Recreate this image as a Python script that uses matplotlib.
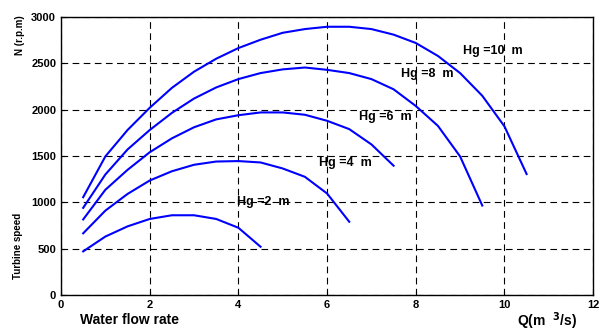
import matplotlib
matplotlib.use("Agg")
import matplotlib.pyplot as plt

plt.rcParams['font.family'] = ['Liberation Sans', 'DejaVu Sans']
plt.rcParams['font.weight'] = 'bold'

# flow rate (m3/s) and turbine speed (rpm) for each head
q2 = [0.5, 1, 1.5, 2, 2.5, 3, 3.5, 4, 4.5]
n2 = [470, 630, 740, 820, 860, 860, 820, 725, 520]

q4 = [0.5, 1, 1.5, 2, 2.5, 3, 3.5, 4, 4.5, 5, 5.5, 6, 6.5]
n4 = [665, 910, 1090, 1235, 1335, 1405, 1440, 1445, 1430, 1365, 1275, 1095, 790]

q6 = [0.5, 1, 1.5, 2, 2.5, 3, 3.5, 4, 4.5, 5, 5.5, 6, 6.5, 7, 7.5]
n6 = [815, 1135, 1350, 1540, 1690, 1810, 1895, 1940, 1970, 1970, 1945, 1880, 1790, 1625, 1395]

q8 = [0.5, 1, 1.5, 2, 2.5, 3, 3.5, 4, 4.5, 5, 5.5, 6, 6.5, 7, 7.5, 8, 8.5, 9, 9.5]
n8 = [940, 1300, 1570, 1780, 1965, 2120, 2240, 2330, 2395, 2435, 2455, 2430, 2395, 2330, 2220, 2040, 1825, 1495, 965]

q10 = [0.5, 1, 1.5, 2, 2.5, 3, 3.5, 4, 4.5, 5, 5.5, 6, 6.5, 7, 7.5, 8, 8.5, 9, 9.5, 10, 10.5]
n10 = [1055, 1495, 1780, 2020, 2235, 2410, 2550, 2665, 2755, 2830, 2870, 2895, 2895, 2870, 2810, 2720, 2580, 2395, 2150, 1820, 1305]

labels = ["Hg =2  m", "Hg =4  m", "Hg =6  m", "Hg =8  m", "Hg =10  m"]
label_x = [4.56, 6.41, 7.31, 8.26, 9.74]
label_y = [1005, 1420, 1925, 2385, 2635]

fig = plt.figure(figsize=(6.04, 3.34), dpi=100)
ax = fig.add_axes([0.101, 0.117, 0.881, 0.832])

for q, n in [(q2, n2), (q4, n4), (q6, n6), (q8, n8), (q10, n10)]:
    ax.plot(q, n, color='#0000ff', lw=1.5)

for t, x, y in zip(labels, label_x, label_y):
    ax.text(x, y, t, ha='center', va='center', fontsize=9, fontweight='bold')

ax.set_xlim(0, 12)
ax.set_ylim(0, 3000)
ax.set_xticks(range(0, 13, 2))
ax.set_yticks(range(0, 3001, 500))
ax.tick_params(direction='in', length=3, labelsize=8, width=0.8)
for lab in ax.get_xticklabels() + ax.get_yticklabels():
    lab.set_fontweight('bold')
ax.grid(True, color='black', linestyle=(0, (6, 4)), linewidth=0.8)
for s in ax.spines.values():
    s.set_linewidth(1.0)

fig.text(0.033, 0.895, "N (r.p.m)", rotation=90, ha='center', va='center', fontsize=7, fontweight='bold')
fig.text(0.03, 0.265, "Turbine speed", rotation=90, ha='center', va='center', fontsize=7, fontweight='bold')
fig.text(0.214, 0.042, "Water flow rate", ha='center', va='center', fontsize=10, fontweight='bold')
fig.text(0.905, 0.039, "Q(m  $^3$/s)", ha='center', va='center', fontsize=10, fontweight='bold')

fig.savefig("out.png", dpi=100)
